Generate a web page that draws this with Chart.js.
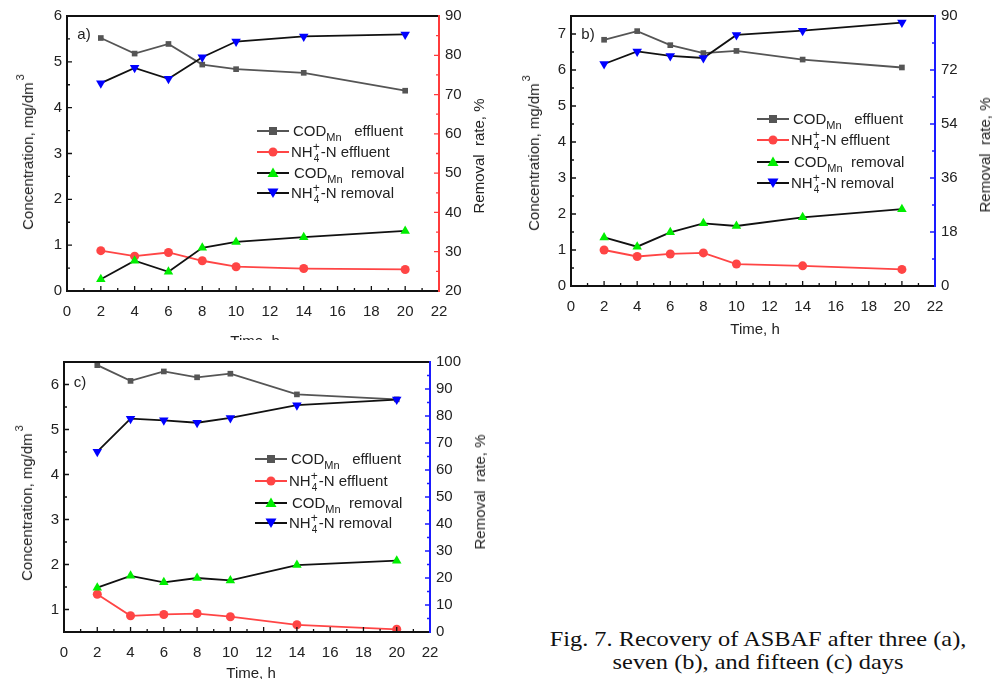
<!DOCTYPE html>
<html><head><meta charset="utf-8">
<script src="https://cdn.jsdelivr.net/npm/chart.js@4"></script>
<style>
body{margin:0;background:#fff;width:992px;height:679px;position:relative;overflow:hidden;font-family:"Liberation Sans",Arial,sans-serif;color:#222}
.panel{position:absolute;overflow:hidden;background:#fff}
.panel canvas{position:absolute;left:0;top:0}
.t{position:absolute;white-space:nowrap;font-size:15px;line-height:18px;transform:translate(-50%,-50%)}
.rot{transform:translate(-50%,-50%) rotate(-90deg)}
.t sup{font-size:11px;vertical-align:9px;margin-left:2px}
.lg{position:absolute;white-space:nowrap;font-size:15px;line-height:18px}
.lg svg{position:absolute;top:0}
.lg .tx{position:absolute;top:-9px}
.lg sub{font-size:11px;vertical-align:-5px;line-height:0}
.ss{display:inline-block;position:relative;width:8px;height:10px}
.ss .p{position:absolute;left:0px;top:-9px;font-size:12px}
.ss .b{position:absolute;left:1px;top:3px;font-size:10px}
.cap{position:absolute;left:758px;top:628px;transform:translateX(-50%) scaleX(1.16);font-family:"Liberation Serif","Times New Roman",serif;font-size:21px;line-height:23px;text-align:center;white-space:nowrap;color:#111}
</style></head>
<body>
<div class="panel" id="pa" style="left:0;top:0;width:500px;height:341px"><canvas id="ca" width="500" height="340"></canvas></div>
<div class="panel" id="pb" style="left:500px;top:0;width:492px;height:340px"><canvas id="cb" width="492" height="340"></canvas></div>
<div class="panel" id="pc" style="left:0;top:340px;width:500px;height:339px"><canvas id="cc" width="500" height="339"></canvas></div>
<div class="cap">Fig. 7. Recovery of ASBAF after three (a),<br>seven (b), and fifteen (c) days</div>
<script>
// ---- data ----
const timeH = [2, 4, 6, 8, 10, 14, 20];

const codEffA = [5.52, 5.18, 5.39, 4.94, 4.84, 4.76, 4.37];
const nh4EffA = [0.88, 0.76, 0.84, 0.66, 0.53, 0.49, 0.47];
const codRemA = [23.0, 27.7, 24.9, 31.0, 32.5, 33.7, 35.3];
const nh4RemA = [72.9, 76.8, 74.0, 79.5, 83.5, 84.8, 85.3];

const codEffB = [6.84, 7.08, 6.69, 6.47, 6.53, 6.29, 6.07];
const nh4EffB = [1.00, 0.82, 0.89, 0.92, 0.61, 0.56, 0.46];
const codRemB = [16.2, 13.1, 17.9, 20.9, 20.0, 22.9, 25.6];
const nh4RemB = [74.0, 78.2, 76.7, 76.0, 83.7, 85.1, 87.8];

const codEffC = [6.43, 6.08, 6.29, 6.16, 6.24, 5.78, 5.67];
const nh4EffC = [1.34, 0.86, 0.89, 0.91, 0.84, 0.66, 0.56];
const codRemC = [16.4, 20.8, 18.4, 20.0, 19.1, 24.8, 26.4];
const nh4RemC = [66.8, 79.0, 78.4, 77.5, 79.3, 84.0, 86.1];

// tick labels
const xTicks = [0, 2, 4, 6, 8, 10, 12, 14, 16, 18, 20, 22];
const xMinor = [1, 3, 5, 7, 9, 11, 13, 15, 17, 19, 21];
const aLeftTicks = [0, 1, 2, 3, 4, 5, 6];
const aLeftMinor = [0.5, 1.5, 2.5, 3.5, 4.5, 5.5];
const aRightTicks = [20, 30, 40, 50, 60, 70, 80, 90];
const aRightMinor = [25, 35, 45, 55, 65, 75, 85];
const bLeftTicks = [0, 1, 2, 3, 4, 5, 6, 7];
const bLeftMinor = [0.5, 1.5, 2.5, 3.5, 4.5, 5.5, 6.5];
const bRightTicks = [0, 18, 36, 54, 72, 90];
const bRightMinor = [9, 27, 45, 63, 81];
const cLeftTicks = [1, 2, 3, 4, 5, 6];
const cLeftMinor = [1.5, 2.5, 3.5, 4.5, 5.5];
const cRightTicks = [0, 10, 20, 30, 40, 50, 60, 70, 80, 90, 100];
const cRightMinor = [5, 15, 25, 35, 45, 55, 65, 75, 85, 95];

const GRAY = '#555555', RED = '#ff4545', GREEN = '#00ee00', BLUE = '#0000ff', BLACK = '#111111';

function pts(ys) { return timeH.map((x, i) => ({ x: x, y: ys[i] })); }

function ds(data, axis, line, fill, style, rot, r) {
  return {
    data: pts(data), yAxisID: axis, borderColor: line, borderWidth: 1.8,
    pointStyle: style, rotation: rot, pointRadius: r, pointBackgroundColor: fill,
    pointBorderColor: fill, pointBorderWidth: 0, tension: 0, fill: false
  };
}

const framePlugin = {
  id: 'frame',
  afterDraw(chart) {
    const o = chart.options.plugins.frame;
    const ctx = chart.ctx, a = chart.chartArea;
    const sx = chart.scales.x, sy = chart.scales.y, sr = chart.scales.y1;
    ctx.save();
    ctx.lineWidth = 1.3;
    ctx.strokeStyle = BLACK;
    ctx.beginPath();
    o.xMajor.forEach(v => { const p = sx.getPixelForValue(v); ctx.moveTo(p, a.bottom); ctx.lineTo(p, a.bottom - 5); });
    o.xMinor.forEach(v => { const p = sx.getPixelForValue(v); ctx.moveTo(p, a.bottom); ctx.lineTo(p, a.bottom - 3); });
    o.lMajor.forEach(v => { const p = sy.getPixelForValue(v); ctx.moveTo(a.left, p); ctx.lineTo(a.left + 5, p); });
    o.lMinor.forEach(v => { const p = sy.getPixelForValue(v); ctx.moveTo(a.left, p); ctx.lineTo(a.left + 3, p); });
    ctx.stroke();
    ctx.strokeStyle = o.rColor;
    ctx.beginPath();
    o.rMajor.forEach(v => { const p = sr.getPixelForValue(v); ctx.moveTo(a.right, p); ctx.lineTo(a.right - 5, p); });
    o.rMinor.forEach(v => { const p = sr.getPixelForValue(v); ctx.moveTo(a.right, p); ctx.lineTo(a.right - 3, p); });
    ctx.stroke();
    ctx.lineWidth = 2;
    ctx.strokeStyle = BLACK;
    ctx.beginPath();
    ctx.moveTo(a.right, a.top); ctx.lineTo(a.left, a.top); ctx.lineTo(a.left, a.bottom); ctx.lineTo(a.right, a.bottom);
    ctx.stroke();
    ctx.strokeStyle = o.rColor;
    ctx.beginPath();
    ctx.moveTo(a.right, a.top - 1); ctx.lineTo(a.right, a.bottom + 1);
    ctx.stroke();
    ctx.restore();
  }
};

function tickSet(arr) { return function (s) { s.ticks = arr.map(v => ({ value: v })); }; }

function makeChart(id, p) {
  const font = { family: '"Liberation Sans", Arial, sans-serif', size: 15 };
  const grid = { display: false, drawTicks: false };
  return new Chart(document.getElementById(id), {
    type: 'line',
    data: {
      datasets: [
        ds(p.codRem, 'y1', BLACK, GREEN, 'triangle', 0, 5.5),
        ds(p.nh4Rem, 'y1', BLACK, BLUE, 'triangle', 180, 5.5),
        ds(p.nh4Eff, 'y', RED, RED, 'circle', 0, 4.5),
        ds(p.codEff, 'y', GRAY, GRAY, 'rect', 0, 4),
      ]
    },
    options: {
      responsive: false, animation: false, devicePixelRatio: 1,
      layout: { padding: { top: p.top, left: 0, right: 0, bottom: 0 } },
      plugins: {
        legend: { display: false }, tooltip: { enabled: false },
        frame: { xMajor: xTicks, xMinor: xMinor, lMajor: p.lT, lMinor: p.lM, rMajor: p.rT, rMinor: p.rM, rColor: p.rColor }
      },
      scales: {
        x: {
          type: 'linear', position: 'bottom', min: 0, max: 22,
          afterBuildTicks: tickSet(xTicks), afterFit(s) { s.height = p.bottom; },
          grid: grid, border: { display: false },
          ticks: { font: font, color: '#222', padding: 12, maxRotation: 0, autoSkip: false }
        },
        y: {
          type: 'linear', position: 'left', min: p.lMin, max: p.lMax,
          afterBuildTicks: tickSet(p.lT), afterFit(s) { s.width = p.left; },
          grid: grid, border: { display: false },
          ticks: { font: font, color: '#222', padding: 5, autoSkip: false }
        },
        y1: {
          type: 'linear', position: 'right', min: p.rMin, max: p.rMax,
          afterBuildTicks: tickSet(p.rT), afterFit(s) { s.width = p.right; },
          grid: grid, border: { display: false },
          ticks: { font: font, color: '#222', padding: 6, autoSkip: false }
        }
      }
    },
    plugins: [framePlugin]
  });
}

makeChart('ca', { codEff: codEffA, nh4Eff: nh4EffA, codRem: codRemA, nh4Rem: nh4RemA,
  lMin: 0, lMax: 6, rMin: 20, rMax: 90, lT: aLeftTicks, lM: aLeftMinor, rT: aRightTicks, rM: aRightMinor,
  rColor: '#ff3b3b', top: 16, bottom: 49, left: 67, right: 61 });
makeChart('cb', { codEff: codEffB, nh4Eff: nh4EffB, codRem: codRemB, nh4Rem: nh4RemB,
  lMin: 0, lMax: 7.5, rMin: 0, rMax: 90, lT: bLeftTicks, lM: bLeftMinor, rT: bRightTicks, rM: bRightMinor,
  rColor: '#1a1aff', top: 16, bottom: 54, left: 71, right: 57 });
makeChart('cc', { codEff: codEffC, nh4Eff: nh4EffC, codRem: codRemC, nh4Rem: nh4RemC,
  lMin: 0.5, lMax: 6.5, rMin: 0, rMax: 100, lT: cLeftTicks, lM: cLeftMinor, rT: cRightTicks, rM: cRightMinor,
  rColor: '#1a1aff', top: 22, bottom: 47, left: 64, right: 70 });

// ---- text overlays ----
function txt(parent, x, y, html, rot) {
  const d = document.createElement('div');
  d.className = 't' + (rot ? ' rot' : '');
  d.style.left = x + 'px'; d.style.top = y + 'px';
  d.innerHTML = html;
  parent.appendChild(d);
}
const pa = document.getElementById('pa'), pb = document.getElementById('pb'), pc = document.getElementById('pc');
const concT = 'Concentration, mg/dm<sup>3</sup>';
const remT = 'Removal&nbsp; rate, %';
txt(pa, 24, 152, concT, true); txt(pa, 479, 156, remT, true); txt(pa, 255, 341, 'Time, h'); txt(pa, 84, 34, 'a)');
txt(pb, 30, 153, concT, true); txt(pb, 485, 155, remT, true); txt(pb, 255, 329, 'Time, h'); txt(pb, 88, 34, 'b)');
txt(pc, 23, 163, concT, true); txt(pc, 480, 152, remT, true); txt(pc, 251, 333, 'Time, h'); txt(pc, 80, 42, 'c)');

const codMn = 'COD<sub>Mn</sub>';
const nh4 = 'NH<span class="ss"><span class="p">+</span><span class="b">4</span></span>-N';
const legendItems = [
  { html: codMn + '&nbsp;&nbsp; effluent', line: GRAY, fill: GRAY, shape: 'sq', dx: 36 },
  { html: nh4 + ' effluent', line: RED, fill: RED, shape: 'ci', dx: 34 },
  { html: codMn + '&nbsp; removal', line: BLACK, fill: GREEN, shape: 'up', dx: 37 },
  { html: nh4 + ' removal', line: BLACK, fill: BLUE, shape: 'dn', dx: 34 },
];
function marker(it) {
  let m = '';
  if (it.shape === 'sq') m = `<rect x="12" y="2" width="8" height="8" fill="${it.fill}"/>`;
  if (it.shape === 'ci') m = `<circle cx="16" cy="6" r="4.5" fill="${it.fill}"/>`;
  if (it.shape === 'up') m = `<polygon points="16,0.5 21.5,10 10.5,10" fill="${it.fill}"/>`;
  if (it.shape === 'dn') m = `<polygon points="10.5,1.5 21.5,1.5 16,11" fill="${it.fill}"/>`;
  return `<svg width="32" height="12" viewBox="0 0 32 12" style="top:-6px;left:0"><line x1="0" y1="6" x2="32" y2="6" stroke="${it.line}" stroke-width="2"/>${m}</svg>`;
}
function legend(parent, x, ys) {
  legendItems.forEach((it, i) => {
    const d = document.createElement('div');
    d.className = 'lg';
    d.style.left = x + 'px'; d.style.top = ys[i] + 'px';
    d.innerHTML = marker(it) + `<span class="tx" style="left:${it.dx}px">${it.html}</span>`;
    parent.appendChild(d);
  });
}
legend(pa, 257, [131, 152, 173, 193]);
legend(pb, 257, [119, 140, 162, 183]);
legend(pc, 255, [119, 141, 163, 183]);
</script>
</body></html>
